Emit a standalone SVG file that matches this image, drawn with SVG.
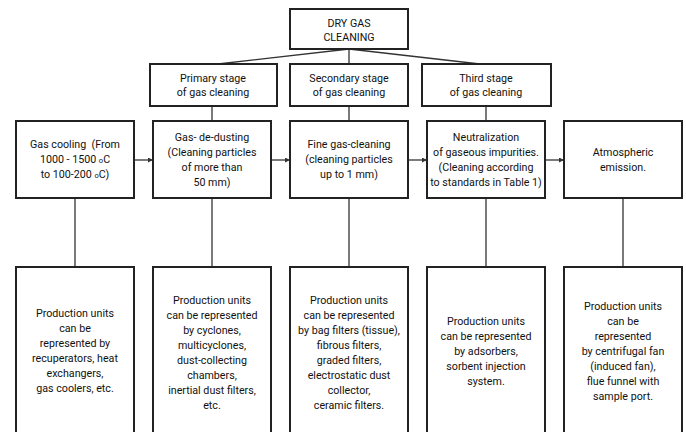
<svg xmlns="http://www.w3.org/2000/svg" width="686" height="432" viewBox="0 0 686 432">
<style>
.box{fill:#fff;stroke:#222;stroke-width:2}
.ln{fill:none;stroke:#333;stroke-width:1.3}
text{font-family:Roboto,"Liberation Sans",Arial,sans-serif;font-size:10.7px;fill:#111;text-anchor:middle}
.sm{font-size:7.5px}
</style>
<defs>
<marker id="ah" viewBox="0 0 6 6" refX="6" refY="3" markerWidth="5" markerHeight="5" orient="auto" markerUnits="userSpaceOnUse"><path d="M0,0 L6,3 L0,6 z" fill="#333"/></marker>
</defs>
<rect width="686" height="432" fill="#fff"/>
<g id="connectors">
<path class="ln" d="M349,49 L218,64 M349,49 L349,64 M349,49 L480,64"/>
<path class="ln" d="M212,106 L212,121 M349,106 L349,121 M486,106 L486,121"/>
<path class="ln" marker-end="url(#ah)" d="M134,160 L153,160"/>
<path class="ln" marker-end="url(#ah)" d="M271,160 L290,160"/>
<path class="ln" marker-end="url(#ah)" d="M408,160 L427,160"/>
<path class="ln" marker-end="url(#ah)" d="M545,160 L564,160"/>
<path class="ln" d="M75,198 L75,267 M212,198 L212,267 M349,198 L349,267 M486,198 L486,267 M623,198 L623,267"/>
</g>
<g id="n-dry"><rect class="box" x="290" y="9" width="118" height="40"/><text x="349" y="27">DRY GAS</text><text x="349" y="41">CLEANING</text></g>
<g id="n-primary"><rect class="box" x="150" y="64" width="127" height="42"/><text x="213" y="82">Primary stage</text><text x="213" y="96">of gas cleaning</text></g>
<g id="n-secondary"><rect class="box" x="290" y="64" width="118" height="42"/><text x="349" y="82">Secondary stage</text><text x="349" y="96">of gas cleaning</text></g>
<g id="n-third"><rect class="box" x="422" y="64" width="129" height="42"/><text x="486" y="82">Third stage</text><text x="486" y="96">of gas cleaning</text></g>
<g id="n-cooling"><rect class="box" x="16" y="121" width="118" height="77"/><text x="75" y="148" xml:space="preserve">Gas cooling  (From</text><text x="75" y="163">1000 - 1500 <tspan class="sm">o</tspan>C</text><text x="75" y="178">to 100-200 <tspan class="sm">o</tspan>C)</text></g>
<g id="n-dedusting"><rect class="box" x="153" y="121" width="118" height="77"/><text x="212" y="141">Gas- de-dusting</text><text x="212" y="156">(Cleaning particles</text><text x="212" y="171">of more than</text><text x="212" y="186">50 mm)</text></g>
<g id="n-fine"><rect class="box" x="290" y="121" width="118" height="77"/><text x="349" y="148">Fine gas-cleaning</text><text x="349" y="163">(cleaning particles</text><text x="349" y="178">up to 1 mm)</text></g>
<g id="n-neutral"><rect class="box" x="427" y="121" width="118" height="77"/><text x="486" y="141">Neutralization</text><text x="486" y="156">of gaseous impurities.</text><text x="486" y="171">(Cleaning according</text><text x="486" y="186">to standards in Table 1)</text></g>
<g id="n-atmos"><rect class="box" x="564" y="121" width="118" height="77"/><text x="623" y="156">Atmospheric</text><text x="623" y="171">emission.</text></g>
<g id="u-cooling"><rect class="box" x="16" y="267" width="118" height="180"/><text x="75" y="317">Production units</text><text x="75" y="332">can be</text><text x="75" y="347">represented by</text><text x="75" y="362">recuperators, heat</text><text x="75" y="377">exchangers,</text><text x="75" y="392">gas coolers, etc.</text></g>
<g id="u-dedusting"><rect class="box" x="153" y="267" width="118" height="180"/><text x="212" y="304">Production units</text><text x="212" y="319">can be represented</text><text x="212" y="334">by cyclones,</text><text x="212" y="349">multicyclones,</text><text x="212" y="364">dust-collecting</text><text x="212" y="379">chambers,</text><text x="212" y="394">inertial dust filters,</text><text x="212" y="409">etc.</text></g>
<g id="u-fine"><rect class="box" x="290" y="267" width="118" height="180"/><text x="349" y="304">Production units</text><text x="349" y="319">can be represented</text><text x="349" y="334">by bag filters (tissue),</text><text x="349" y="349">fibrous filters,</text><text x="349" y="364">graded filters,</text><text x="349" y="379">electrostatic dust</text><text x="349" y="394">collector,</text><text x="349" y="409">ceramic filters.</text></g>
<g id="u-neutral"><rect class="box" x="427" y="267" width="118" height="180"/><text x="486" y="325">Production units</text><text x="486" y="340">can be represented</text><text x="486" y="355">by adsorbers,</text><text x="486" y="370">sorbent injection</text><text x="486" y="385">system.</text></g>
<g id="u-atmos"><rect class="box" x="564" y="267" width="118" height="180"/><text x="623" y="310">Production units</text><text x="623" y="325">can be</text><text x="623" y="340">represented</text><text x="623" y="355">by centrifugal fan</text><text x="623" y="370">(induced fan),</text><text x="623" y="385">flue funnel with</text><text x="623" y="400">sample port.</text></g>
</svg>
